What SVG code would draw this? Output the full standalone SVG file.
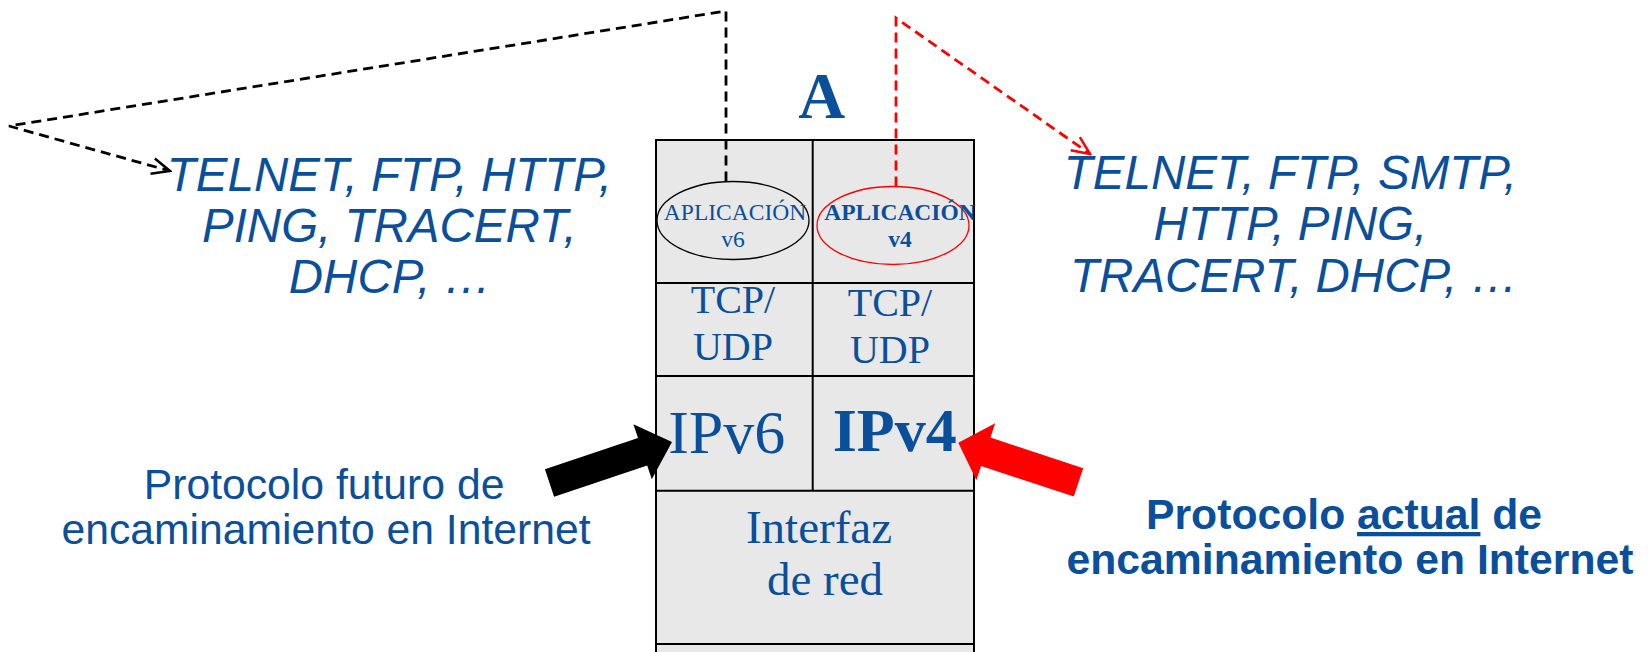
<svg xmlns="http://www.w3.org/2000/svg" width="1648" height="652" viewBox="0 0 1648 652">
<style>
.blue{fill:#0a4f9c}
.sans{font-family:"Liberation Sans",Arial,sans-serif}
.serif{font-family:"Liberation Serif","Times New Roman",serif}
.it{font-style:italic;font-size:47.5px}
.cell{fill:#e8e8e8;stroke:#000;stroke-width:2}
.grid{stroke:#000;stroke-width:2;fill:none}
.dash{fill:none;stroke-width:2.8;stroke-dasharray:10 6}
</style>
<defs>
<marker id="ahB" viewBox="0 0 22 20" refX="20" refY="10" markerWidth="22" markerHeight="20" markerUnits="userSpaceOnUse" orient="auto">
<path d="M2,2 L20,10 L2,18" fill="none" stroke="#000" stroke-width="2.5"/>
</marker>
<marker id="ahR" viewBox="0 0 22 20" refX="20" refY="10" markerWidth="22" markerHeight="20" markerUnits="userSpaceOnUse" orient="auto">
<path d="M2,2 L20,10 L2,18" fill="none" stroke="#f00" stroke-width="2.5"/>
</marker>
</defs>
<rect width="1648" height="652" fill="#fff"/>

<g id="stack">
<rect class="cell" x="656" y="140" width="318" height="520"/>
<line class="grid" x1="812.7" y1="140" x2="812.7" y2="490.7"/>
<line class="grid" x1="656" y1="283" x2="974" y2="283"/>
<line class="grid" x1="656" y1="376" x2="974" y2="376"/>
<line class="grid" x1="656" y1="490.7" x2="974" y2="490.7"/>
<line class="grid" x1="656" y1="644" x2="974" y2="644"/>
</g>

<g id="title">
<text class="serif blue" x="821.7" y="118" font-size="65" font-weight="bold" text-anchor="middle">A</text>
</g>

<g id="app-v6">
<ellipse cx="733" cy="220.5" rx="76" ry="39" fill="none" stroke="#000" stroke-width="1.3"/>
<text class="serif blue" x="735" y="220" font-size="23.5" text-anchor="middle">APLICACIÓN</text>
<text class="serif blue" x="733" y="246.7" font-size="23.5" text-anchor="middle">v6</text>
</g>

<g id="app-v4">
<ellipse cx="893" cy="225.5" rx="76" ry="39" fill="none" stroke="#f00" stroke-width="1.3"/>
<text class="serif blue" x="900" y="220" font-size="23.5" font-weight="bold" text-anchor="middle">APLICACIÓN</text>
<text class="serif blue" x="900" y="247" font-size="23.5" font-weight="bold" text-anchor="middle">v4</text>
</g>

<g id="tcp-v6">
<text class="serif blue" x="733" y="313" font-size="40" text-anchor="middle">TCP/</text>
<text class="serif blue" x="733" y="360" font-size="40" text-anchor="middle">UDP</text>
</g>
<g id="tcp-v4">
<text class="serif blue" x="890" y="316" font-size="40" text-anchor="middle">TCP/</text>
<text class="serif blue" x="890" y="363" font-size="40" text-anchor="middle">UDP</text>
</g>

<g id="ipv6">
<text class="serif blue" x="726.7" y="452.7" font-size="62" text-anchor="middle">IPv6</text>
</g>
<g id="ipv4">
<text class="serif blue" x="894.7" y="450.7" font-size="62" font-weight="bold" text-anchor="middle">IPv4</text>
</g>

<g id="interfaz">
<text class="serif blue" x="819" y="543" font-size="47" text-anchor="middle">Interfaz</text>
<text class="serif blue" x="825" y="595" font-size="47" text-anchor="middle">de red</text>
</g>

<g id="apps-left">
<text class="sans it blue" text-anchor="middle">
<tspan x="396" y="190.7">TELNET, FTP, HTTP,</tspan>
<tspan x="396" y="241.7">PING, TRACERT,</tspan>
<tspan x="390" y="293">DHCP, …</tspan>
</text>
</g>

<g id="apps-right">
<text class="sans it blue" text-anchor="middle">
<tspan x="1297" y="189.3">TELNET, FTP, SMTP,</tspan>
<tspan x="1297" y="240">HTTP, PING,</tspan>
<tspan x="1294" y="291.7">TRACERT, DHCP, …</tspan>
</text>
</g>

<g id="label-future">
<text class="sans blue" font-size="42.7" text-anchor="middle">
<tspan x="330" y="499">Protocolo futuro de</tspan>
<tspan x="326" y="544">encaminamiento en Internet</tspan>
</text>
</g>

<g id="label-current">
<text class="sans blue" font-size="42.7" font-weight="bold" text-anchor="middle">
<tspan x="1350" y="529">Protocolo <tspan text-decoration="underline">actual</tspan> de</tspan>
<tspan x="1350" y="574">encaminamiento en Internet</tspan>
</text>
</g>

<g id="connectors">
<polyline class="dash" stroke="#000" points="726,181.5 726,11 9,126 170,171" marker-end="url(#ahB)"/>
<polyline class="dash" stroke="#f00" points="896,186.5 896,18 1090,154" marker-end="url(#ahR)"/>
<polygon fill="#000" points="544.9,469.3 638,438.1 633.4,424.3 672,442 651.8,479.3 647.2,465.5 554.1,496.7"/>
<polygon fill="#f00" points="1083.2,468.2 990.5,437.6 995.2,423.3 958.3,442.7 976.4,480.3 981.1,466.0 1073.8,496.6"/>
</g>
</svg>
